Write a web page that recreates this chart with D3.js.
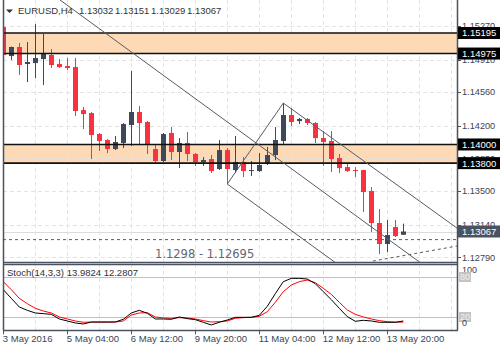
<!DOCTYPE html>
<html><head><meta charset="utf-8">
<script src="https://cdn.jsdelivr.net/npm/d3@7"></script>
<style>html,body{margin:0;padding:0;background:#fff;}svg{display:block;}text{font-family:"Liberation Sans",Arial,sans-serif;}</style>
</head><body><svg id="c" width="500" height="350"></svg>
<script>
// ---------- data ----------
const symbolTitle = "EURUSD,H4";
const lastOHLC = ["1.13032","1.13151","1.13029","1.13067"];
const opens  = [1.15259,1.14948,1.15045,1.14863,1.14873,1.14916,1.14959,1.14863,1.14841,1.14830,
                1.14369,1.14337,1.14112,1.14048,1.13951,1.14016,1.14209,1.14348,1.14241,1.13951,
                1.13823,1.14123,1.13919,1.14016,1.13898,1.13812,1.13844,1.13737,1.13940,1.13726,
                1.13812,1.13715,1.13715,1.13790,1.13887,1.14037,1.14316,1.14251,1.14273,1.14230,
                1.14069,1.14037,1.13855,1.13758,1.13726,1.13726,1.13501,1.13158,1.12933,1.13115,1.13032];
const highs  = [1.15377,1.15050,1.15088,1.15098,1.15291,1.15184,1.15023,1.14916,1.14927,1.14927,
                1.14402,1.14348,1.14123,1.14058,1.14091,1.14230,1.14788,1.14412,1.14251,1.14005,
                1.14123,1.14187,1.14069,1.14134,1.13908,1.13865,1.13887,1.14048,1.13962,1.14091,
                1.13865,1.13823,1.13908,1.13973,1.14187,1.14444,1.14391,1.14284,1.14284,1.14241,
                1.14144,1.14144,1.13898,1.13790,1.13758,1.13730,1.13544,1.13308,1.13190,1.13190,1.13151];
const lows   = [1.14948,1.14905,1.14745,1.14670,1.14712,1.14637,1.14820,1.14820,1.14798,1.14305,
                1.14166,1.13844,1.13930,1.13908,1.13940,1.13962,1.13983,1.14005,1.13898,1.13790,
                1.13812,1.13833,1.13747,1.13823,1.13769,1.13769,1.13694,1.13726,1.13576,1.13694,
                1.13651,1.13662,1.13705,1.13780,1.13833,1.14005,1.14198,1.14219,1.14209,1.14016,
                1.13769,1.13705,1.13694,1.13705,1.13651,1.13276,1.13061,1.12825,1.12847,1.13008,1.13029];
const closes = [1.14959,1.15045,1.14852,1.14884,1.14927,1.14970,1.14852,1.14830,1.14820,1.14359,
                1.14326,1.14101,1.14037,1.13951,1.14026,1.14219,1.14348,1.14230,1.14005,1.13823,
                1.14112,1.13919,1.14016,1.13898,1.13812,1.13833,1.13715,1.13940,1.13737,1.13812,
                1.13715,1.13726,1.13780,1.13887,1.14048,1.14316,1.14241,1.14273,1.14230,1.14069,
                1.14026,1.13844,1.13747,1.13715,1.13715,1.13490,1.13158,1.12933,1.13029,1.13018,1.13067];
const stochK = [61,48,35,30,26,25,24,17,14,11,9.5,12.4,12.4,12.4,12.5,16.5,26,30,25.5,17,
                17,16.5,20,17.5,16,12,8,12,15.5,19.5,19.5,19.5,22.5,36,55,73,78,78,77,70,
                58,46,33,20.5,13.5,15,14,12,12,12,13.9824];
const stochD = [73,61,48,40,33,29,26,20,17,14,12,12.4,12.4,12.4,12.4,14,23,26,26.5,20,
                18.5,18,19,18.5,17,14.5,12.4,13,14,18,19,19.5,21,28,42,58,68,73,75.5,71.5,
                63,54,42,30.5,24,20,17,14.5,13,12.3,12.2807];
const stochTitle = "Stoch(14,3,3) 13.9824 12.2807";
const priceTicks = [1.15270,1.14910,1.14560,1.14200,1.13850,1.13500,1.13140,1.12790];
const priceTickLabels = ["1.15270","1.14910","1.14560","1.14200","1.13850","1.13500","1.13140","1.12790"];
const bandTop = [1.15195,1.14975];      // [upper, lower]
const bandBottom = [1.14000,1.13800];
const levelLabels = ["1.15195","1.14975","1.14000","1.13800"];
const currentPrice = 1.13067, currentLabel = "1.13067";
const dateIdx = [0,8,16,24,32,40,48];
const dateLabels = ["3 May 2016","5 May 04:00","6 May 12:00","9 May 20:00","11 May 04:00","12 May 12:00","13 May 20:00"];
const stochLevels = [80,20];
// trend lines: [index, price] pairs
const trendLines = [
  [[7.09,1.15549],[52.0,1.12741]],
  [[28,1.13576],[35,1.14444]],
  [[35,1.14444],[56.71,1.13104]],
  [[28,1.13576],[42,1.12703]]
];
const fiboLevel = 1.1298;
const fiboSlope = [[46.2,1.12750],[56.71,1.12911]];
const fiboText = "1.1298 - 1.12695";

// ---------- drawing ----------
const svg = d3.select("#c");
const L = 3, R = 457, MT = 0, MB = 262, ST = 264, SB = 330.3;
const x = d3.scaleLinear().domain([0,50]).range([3.3,403.3]);
const y = d3.scaleLinear().domain([1.15549,1.12740]).range([MT,MB]);
const ys = d3.scaleLinear().domain([0,100]).range([SB,263.7]);

const defs = svg.append("defs");
defs.append("clipPath").attr("id","cm").append("rect").attr("x",L).attr("y",MT).attr("width",R-L).attr("height",MB-MT);
defs.append("clipPath").attr("id","cs").append("rect").attr("x",L).attr("y",ST).attr("width",R-L).attr("height",SB-ST);

const gm = svg.append("g").attr("clip-path","url(#cm)");
const gs = svg.append("g").attr("clip-path","url(#cs)");

// bands
[[bandTop[0],bandTop[1]],[bandBottom[0],bandBottom[1]]].forEach(b=>{
  gm.append("rect").attr("x",L).attr("width",R-L).attr("y",y(b[0])).attr("height",y(b[1])-y(b[0])).attr("fill","#fdd9b6");
});

// grid
const gridIdx = d3.range(4,57,4);
const gridColor = "#e3e3e3";
gm.selectAll("line.vg").data(gridIdx).join("line").attr("x1",d=>Math.round(x(d))+0.5).attr("x2",d=>Math.round(x(d))+0.5)
  .attr("y1",MT).attr("y2",MB).attr("stroke",gridColor).attr("stroke-dasharray","4,3");
gm.selectAll("line.hg").data(priceTicks).join("line").attr("x1",L).attr("x2",R).attr("y1",d=>Math.round(y(d))+0.5).attr("y2",d=>Math.round(y(d))+0.5)
  .attr("stroke",gridColor).attr("stroke-dasharray","4,3");
gs.selectAll("line.vg").data(gridIdx).join("line").attr("x1",d=>Math.round(x(d))+0.5).attr("x2",d=>Math.round(x(d))+0.5)
  .attr("y1",ST).attr("y2",SB).attr("stroke",gridColor).attr("stroke-dasharray","4,3");

// current price line
gm.append("line").attr("x1",L).attr("x2",R).attr("y1",Math.round(y(currentPrice))+0.5).attr("y2",Math.round(y(currentPrice))+0.5)
  .attr("stroke","#dcdcdc");

// candles
const up = "#3d4858", dn = "#f7333f";
const cg = gm.append("g");
opens.forEach((o,i)=>{
  const c = closes[i], cx = Math.round(x(i));
  const col = c >= o ? up : dn;
  cg.append("line").attr("x1",cx+0.5).attr("x2",cx+0.5).attr("y1",y(highs[i])).attr("y2",y(lows[i])).attr("stroke",col);
  const top = y(Math.max(o,c)), bot = y(Math.min(o,c));
  cg.append("rect").attr("x",cx-2).attr("width",5).attr("y",top).attr("height",Math.max(1,bot-top)).attr("fill",col);
});

// band edge lines
bandTop.concat(bandBottom).forEach(p=>{
  gm.append("line").attr("x1",L).attr("x2",R).attr("y1",y(p)).attr("y2",y(p)).attr("stroke","#111").attr("stroke-width",1.6);
});

// trend lines
const ln = d3.line().x(d=>x(d[0])).y(d=>y(d[1]));
trendLines.forEach(t=>{
  gm.append("path").attr("d",ln(t)).attr("fill","none").attr("stroke","#555c66").attr("stroke-width",1);
});
gm.append("line").attr("x1",L).attr("x2",R).attr("y1",y(fiboLevel)).attr("y2",y(fiboLevel)).attr("stroke","#555c66").attr("stroke-dasharray","3,3");
gm.append("path").attr("d",ln(fiboSlope)).attr("fill","none").attr("stroke","#555c66").attr("stroke-dasharray","3,3");
svg.append("text").attr("x",155).attr("y",258).attr("fill","#5f6873").style("font-family","'DejaVu Sans',sans-serif").style("font-size","11.5px").text(fiboText);

// stoch
stochLevels.forEach(v=>{
  gs.append("line").attr("x1",L).attr("x2",R).attr("y1",Math.round(ys(v))+0.5).attr("y2",Math.round(ys(v))+0.5).attr("stroke","#c0c0c0");
});
const sl = d3.line().x((d,i)=>x(i)).y(d=>ys(d));
gs.append("path").attr("d",sl(stochD)).attr("fill","none").attr("stroke","#ff0000").attr("stroke-width",1);
gs.append("path").attr("d",sl(stochK)).attr("fill","none").attr("stroke","#000").attr("stroke-width",1);

// frames
const frame = "#4a5260";
svg.append("line").attr("x1",L+0.5).attr("x2",L+0.5).attr("y1",0).attr("y2",SB).attr("stroke",frame).attr("stroke-width",1.5);
svg.append("line").attr("x1",R+0.5).attr("x2",R+0.5).attr("y1",0).attr("y2",SB).attr("stroke",frame).attr("stroke-width",1.5);
[MB,ST,SB].forEach(v=>{
  svg.append("line").attr("x1",L).attr("x2",R+1).attr("y1",Math.round(v)+0.5).attr("y2",Math.round(v)+0.5).attr("stroke",frame).attr("stroke-width",1.5);
});

// right price axis
const axisColor = "#3b4554";
priceTicks.forEach((p,i)=>{
  svg.append("line").attr("x1",R).attr("x2",R+4).attr("y1",Math.round(y(p))+0.5).attr("y2",Math.round(y(p))+0.5).attr("stroke",frame);
  svg.append("text").attr("x",462).attr("y",y(p)).attr("dy","0.35em").attr("fill",axisColor).style("font-size","9.2px").text(priceTickLabels[i]);
});
// level labels
bandTop.concat(bandBottom).forEach((p,i)=>{
  svg.append("rect").attr("x",458).attr("y",y(p)-6).attr("width",42).attr("height",12).attr("fill","#000");
  svg.append("text").attr("x",462).attr("y",y(p)).attr("dy","0.36em").attr("fill","#fff").style("font-size","9.5px").text(levelLabels[i]);
});
svg.append("rect").attr("x",458).attr("y",y(currentPrice)-6).attr("width",42).attr("height",12).attr("fill","#4a5361");
svg.append("text").attr("x",462).attr("y",y(currentPrice)).attr("dy","0.36em").attr("fill","#fff").style("font-size","9.5px").text(currentLabel);

// stoch axis
svg.append("text").attr("x",462).attr("y",270).attr("dy","0.35em").attr("fill",axisColor).style("font-size","9px").text("100");
stochLevels.forEach(v=>{
  svg.append("rect").attr("x",459).attr("y",ys(v)-5).attr("width",12).attr("height",10).attr("fill","#c4c4c4");
  svg.append("text").attr("x",460).attr("y",ys(v)).attr("dy","0.35em").attr("fill","#f0f0f0").style("font-size","9px").text(String(v));
});
svg.append("text").attr("x",462).attr("y",323).attr("dy","0.35em").attr("fill",axisColor).style("font-size","9px").text("0");

// x axis
dateIdx.forEach((d,i)=>{
  const xx = Math.round(x(d))+0.5;
  svg.append("line").attr("x1",xx).attr("x2",xx).attr("y1",SB).attr("y2",SB+4).attr("stroke",frame);
  svg.append("text").attr("x",x(d)-0.5).attr("y",342).attr("fill",axisColor).style("font-size","9.5px").text(dateLabels[i]);
});

// titles
svg.append("path").attr("d","M6,9.5L13,9.5L9.5,13Z").attr("fill","#333");
svg.append("text").attr("x",18).attr("y",14).attr("fill","#333").style("font-size","9.5px").text(symbolTitle);
lastOHLC.forEach((v,i)=>{
  svg.append("text").attr("x",79 + i*36).attr("y",14).attr("fill","#333").style("font-size","9.5px").text(v);
});
svg.append("text").attr("x",7).attr("y",275.5).attr("fill","#333").style("font-size","9.5px").text(stochTitle);
</script></body></html>
